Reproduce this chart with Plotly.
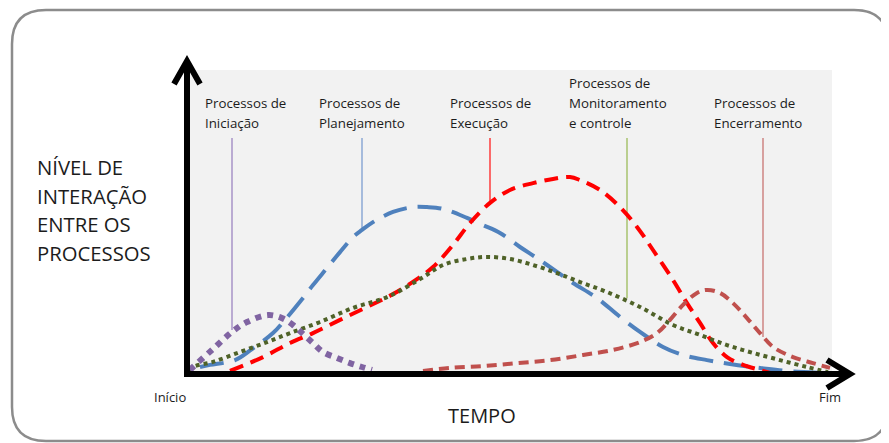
import plotly.graph_objects as go

# ---------------- data (time units 0..129, level units 0..101) ----------------
ini_t = [0.6, 1.2, 5.2, 9.0, 12.0, 16.2, 19.0, 21.2, 23.2, 25.2, 27.2, 30.0, 32.6, 35.0, 37.0]
ini_v = [1.0, 2.0, 8.0, 13.7, 17.0, 19.3, 18.3, 16.0, 13.0, 10.0, 7.0, 5.0, 3.3, 2.0, 1.0]

plan_t = [2.6, 4.6, 9.6, 13.0, 17.2, 19.6, 23.2, 25.2, 28.0, 30.6, 33.2, 35.0, 37.2, 41.2, 45.2,
          48.0, 51.2, 56.0, 59.2, 62.6, 66.6, 70.0, 74.0, 77.2, 82.0, 86.6, 90.6, 95.2, 99.2,
          104.0, 108.6, 114.6, 121.2, 128.6]
plan_v = [2.0, 2.7, 4.3, 8.0, 13.3, 17.7, 25.0, 29.3, 35.0, 40.3, 45.3, 47.7, 50.3, 53.7, 55.3,
          55.3, 54.7, 51.7, 49.3, 46.7, 42.0, 38.3, 33.7, 30.0, 25.0, 18.7, 13.7, 8.7, 6.0,
          4.3, 3.0, 1.7, 0.5, 0.0]

exe_t = [8.6, 15.2, 20.6, 25.2, 30.6, 36.0, 41.2, 46.0, 49.2, 53.2, 56.6, 60.6, 64.6, 69.2, 73.2,
         76.6, 78.6, 82.6, 86.6, 90.0, 93.2, 97.2, 100.0, 102.6, 105.2, 108.0, 111.2, 114.6, 116.6]
exe_v = [0.7, 5.3, 10.0, 13.3, 17.7, 22.0, 26.3, 31.3, 35.3, 42.7, 50.0, 56.7, 61.0, 63.3, 64.7,
         65.3, 64.3, 61.0, 55.3, 48.7, 41.0, 31.0, 23.3, 16.7, 10.0, 5.3, 2.7, 1.0, 0.0]

mon_t = [0.6, 1.2, 5.2, 10.6, 16.0, 20.6, 26.6, 33.2, 40.0, 46.6, 51.2, 56.0, 60.0, 64.6, 69.2,
         74.0, 78.6, 84.0, 90.6, 97.2, 102.6, 108.0, 113.2, 118.6, 124.0, 128.2]
mon_v = [0.7, 2.0, 3.7, 7.0, 10.3, 13.3, 17.0, 21.7, 25.3, 31.3, 36.0, 38.0, 38.7, 38.0, 36.0,
         33.3, 30.3, 27.0, 22.0, 16.0, 12.7, 9.3, 6.7, 4.3, 2.0, 0.3]

enc_t = [47.2, 52.6, 59.2, 66.0, 72.6, 79.2, 85.2, 90.6, 94.0, 96.6, 99.2, 102.0, 104.0, 106.6,
         109.2, 112.0, 114.6, 117.2, 121.2, 125.2, 128.6]
enc_v = [0.7, 1.7, 2.3, 3.3, 4.3, 6.0, 7.7, 10.3, 13.3, 17.7, 22.7, 26.7, 27.7, 26.7,
         23.3, 18.3, 13.3, 8.7, 5.3, 3.3, 1.7]

# label lines and pointer positions
label_lines = [["Processos de", "Iniciação"],
               ["Processos de", "Planejamento"],
               ["Processos de", "Execução"],
               ["Processos de", "Monitoramento", "e controle"],
               ["Processos de", "Encerramento"]]
label_t = [3.2, 26.0, 52.2, 76.0, 105.0]
pointer_t = [9.0, 35.0, 60.6, 88.0, 115.2]
pointer_bottom = [14.3, 47.7, 56.0, 25.0, 12.0]
pointer_top = 78.3

y_title_lines = ["NÍVEL DE", "INTERAÇÃO", "ENTRE OS", "PROCESSOS"]
x_title = "TEMPO"
x_start_label = "Início"
x_end_label = "Fim"

# ---------------- styles ----------------
FONT = "Open Sans"
TXT = "#1c1c1c"
curve_styles = [
    dict(color="#8064A2", width=6, dash="dot"),
    dict(color="#4F81BD", width=4, dash="24px,11px"),
    dict(color="#FF0000", width=4, dash="14px,8px"),
    dict(color="#4F6228", width=4, dash="dot"),
    dict(color="#C0504D", width=4, dash="10px,6px"),
]
pointer_colors = ["#9B84C0", "#7C9DD0", "#FF2020", "#9BBB59", "#C87472"]

OFF = 8                          # page body margin
L, R, T, B = 187, 832, 70, 373   # plot area in window pixels
W, H = 889, 443


def pxx(px):
    return (px - L) / (R - L)


def pxy(py):
    return (B - py) / (B - T)


fig = go.Figure()

# pointer lines (behind curves)
for t, yb, c in zip(pointer_t, pointer_bottom, pointer_colors):
    fig.add_trace(go.Scatter(x=[t, t], y=[pointer_top, yb], mode="lines",
                             line=dict(color=c, width=1.3), hoverinfo="skip"))

series = [(ini_t, ini_v), (plan_t, plan_v), (exe_t, exe_v), (mon_t, mon_v), (enc_t, enc_v)]
order = [1, 2, 3, 4, 0]
for i in order:
    tx, vy = series[i]
    fig.add_trace(go.Scatter(x=tx, y=vy, mode="lines",
                             line=dict(shape="spline", smoothing=1.0, **curve_styles[i]),
                             hoverinfo="skip"))

shapes = []
# rounded border
x0, x1, y0, y1, r = 12, 888, 10, 441, 34
rx, ry = r / (R - L), r / (B - T)
X0, X1, Y0, Y1 = pxx(x0), pxx(x1), pxy(y0), pxy(y1)
path = (f"M {X0+rx},{Y0} L {X1-rx},{Y0} Q {X1},{Y0} {X1},{Y0-ry} "
        f"L {X1},{Y1+ry} Q {X1},{Y1} {X1-rx},{Y1} L {X0+rx},{Y1} "
        f"Q {X0},{Y1} {X0},{Y1+ry} L {X0},{Y0-ry} Q {X0},{Y0} {X0+rx},{Y0} Z")
shapes.append(dict(type="path", xref="paper", yref="paper", path=path,
                   line=dict(color="#8C8C8C", width=2.5), layer="below"))

# axes with chevron arrows
ax_color = "black"
shapes.append(dict(type="line", xref="paper", yref="paper",
                   x0=pxx(187), x1=pxx(187), y0=pxy(377), y1=pxy(62),
                   line=dict(color=ax_color, width=6)))
shapes.append(dict(type="path", xref="paper", yref="paper",
                   path=f"M {pxx(174)},{pxy(84)} L {pxx(187)},{pxy(61)} L {pxx(200)},{pxy(84)}",
                   line=dict(color=ax_color, width=6)))
shapes.append(dict(type="line", xref="paper", yref="paper",
                   x0=pxx(184), x1=pxx(849), y0=pxy(374), y1=pxy(374),
                   line=dict(color=ax_color, width=6)))
shapes.append(dict(type="path", xref="paper", yref="paper",
                   path=f"M {pxx(827)},{pxy(360)} L {pxx(850)},{pxy(374)} L {pxx(827)},{pxy(388)}",
                   line=dict(color=ax_color, width=6)))

annotations = []
# process labels
for lines, t in zip(label_lines, label_t):
    n = len(lines)
    for k, txt in enumerate(lines):
        ypix = 123 - 20 * (n - 1 - k)
        annotations.append(dict(x=t, y=(B - ypix) / 3.0, xref="x", yref="y", text=txt,
                                showarrow=False, xanchor="left", yanchor="middle",
                                font=dict(family=FONT, size=13.3, color=TXT)))
# y title
for k, txt in enumerate(y_title_lines):
    annotations.append(dict(x=pxx(35), y=pxy(167 + 28.5 * k), xref="paper", yref="paper",
                            text=txt, showarrow=False, xanchor="left", yanchor="middle",
                            font=dict(family=FONT, size=20.3, color=TXT)))
annotations.append(dict(x=pxx(482), y=pxy(415), xref="paper", yref="paper", text=x_title,
                        showarrow=False, xanchor="center", yanchor="middle",
                        font=dict(family=FONT, size=20, color=TXT)))
annotations.append(dict(x=pxx(170), y=pxy(397), xref="paper", yref="paper", text=x_start_label,
                        showarrow=False, xanchor="center", yanchor="middle",
                        font=dict(family=FONT, size=13, color=TXT)))
annotations.append(dict(x=pxx(830), y=pxy(397), xref="paper", yref="paper", text=x_end_label,
                        showarrow=False, xanchor="center", yanchor="middle",
                        font=dict(family=FONT, size=13, color=TXT)))

fig.update_layout(
    width=W - OFF, height=H - OFF,
    margin=dict(l=L - OFF, r=W - R, t=T - OFF, b=H - B, pad=0),
    paper_bgcolor="white", plot_bgcolor="#F2F2F2",
    showlegend=False,
    xaxis=dict(range=[0, 129], visible=False, fixedrange=True),
    yaxis=dict(range=[0, 101], visible=False, fixedrange=True),
    shapes=shapes, annotations=annotations,
)

fig.write_html("out.html")
